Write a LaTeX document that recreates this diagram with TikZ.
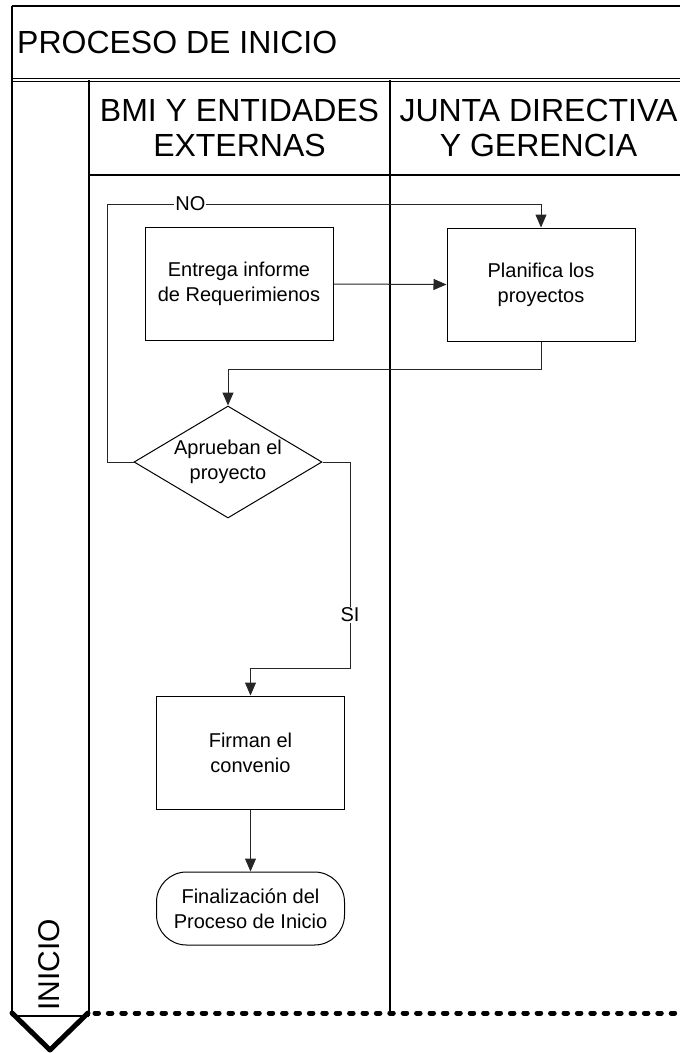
\documentclass[tikz,border=0pt]{standalone}
\usepackage{fontspec}
\setmainfont{Liberation Sans}
\usetikzlibrary{arrows.meta,shapes.geometric}
\begin{document}
\begin{tikzpicture}[x=1pt,y=-1pt,
  frame/.style={draw=black,line width=1.2pt},
  lane/.style={draw=black,line width=1.6pt},
  head/.style={font=\fontsize{32}{35}\selectfont,align=center,inner sep=0pt},
  stepbox/.style={draw=black,line width=1pt,minimum width=188pt,minimum height=113pt,
    align=center,inner sep=0pt,font=\fontsize{20}{25}\selectfont},
  decision/.style={diamond,draw=black,line width=1pt,minimum width=188pt,
    minimum height=112pt,inner sep=0pt},
  endbox/.style={draw=black,line width=1pt,rounded corners=30pt,minimum width=188pt,
    minimum height=73pt,align=center,inner sep=0pt,font=\fontsize{20}{25}\selectfont},
  txt/.style={align=center,inner sep=0pt,font=\fontsize{20}{25}\selectfont},
  conn/.style={draw=black!85,line width=1pt},
  arr/.style={conn,-{Triangle[width=11pt,length=13pt]}},
  lbl/.style={fill=white,inner sep=1pt,font=\fontsize{20}{24}\selectfont}]
\useasboundingbox (0,0) rectangle (680,1053);
\clip (0,0) rectangle (680,1053);

% outer frame and title band
\draw[frame] (12,6) -- (700,6);
\draw[frame] (12,6) -- (12,1016);
\draw[line width=1pt] (12,78.5) -- (700,78.5);
\draw[line width=1pt] (12,81.5) -- (700,81.5);
\node[anchor=west,font=\fontsize{32}{38}\selectfont,inner sep=0pt] (title) at (17,42) {PROCESO DE INICIO};

% phase strip and lanes
\draw[frame] (89,80) -- (89,1016);
\draw[frame] (89,175) -- (700,175);
\draw[lane] (390,80) -- (390,1013);
\draw[frame] (12,1016) -- (89,1016);
\node[head] (laneA) at (239.5,127.5) {BMI Y ENTIDADES\\EXTERNAS};
\node[head] (laneB) at (538.5,127.5) {JUNTA DIRECTIVA\\Y GERENCIA};
\node[rotate=90,font=\fontsize{30}{30}\selectfont,inner sep=0pt] (fase) at (49,965) {INICIO};

% phase end marker
\draw[line width=5pt,line join=round,line cap=round] (12,1013) -- (50,1050) -- (88,1013);
\draw[line width=5pt,dash pattern=on 3.5pt off 9.9pt,line cap=round] (95,1013) -- (700,1013);

% process steps
\node[stepbox] (entrega) at (239,284) {Entrega informe\\de Requerimienos};
\node[stepbox] (plan) at (541,284.5) {Planifica los\\proyectos};
\node[decision] (dec) at (228,462) {};
\node[txt] (dectxt) at (dec.center) {Aprueban el\\proyecto};
\node[stepbox] (firma) at (250.5,752.5) {Firman el\\convenio};
\node[endbox] (fin) at (250.5,908.5) {Finalización del\\Proceso de Inicio};

% connectors
\coordinate (noX) at (107,204);
\coordinate (siC) at (350,668);
\draw[arr] (entrega.east) -- (plan.west);
\draw[arr] (dec.west) -| (noX) -| node[lbl,pos=0.096] {NO} (plan.north);
\draw[arr] (plan.south) -- ++(0,28) -| (dec.north);
\draw[arr] (dec.east) -| node[lbl,pos=0.871] {SI} (siC) -| (firma.north);
\draw[arr] (firma.south) -- (fin.north);
\end{tikzpicture}
\end{document}
